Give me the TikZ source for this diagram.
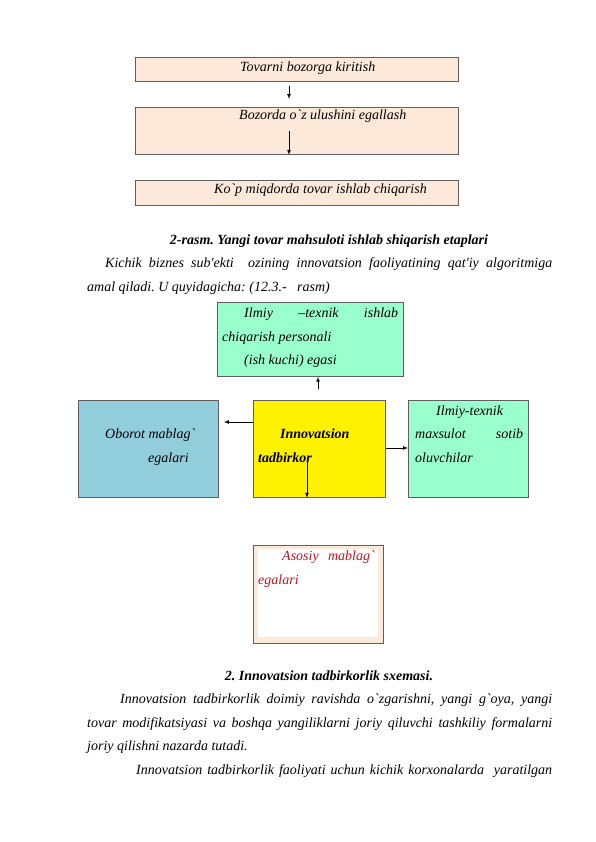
\documentclass[tikz,border=0pt]{standalone}
\usepackage{fontspec}
\setmainfont{Liberation Serif}[Ligatures=TeXOff]
\usetikzlibrary{arrows}
\frenchspacing
\definecolor{peach}{RGB}{253,233,217}
\definecolor{mint}{RGB}{153,255,204}
\definecolor{skyblue}{RGB}{146,205,220}
\definecolor{boxline}{RGB}{95,95,95}
\definecolor{redtext}{RGB}{200,20,30}
\tikzstyle{stage}=[draw=boxline,fill=peach,line width=0.9pt,inner sep=0pt,anchor=north west]
\tikzstyle{block}=[draw=boxline,line width=0.8pt,inner sep=0pt,anchor=north west]
\tikzstyle{txt}=[inner sep=0pt,anchor=base west,font=\fontsize{14}{16}\selectfont\itshape]
\tikzstyle{captxt}=[inner sep=0pt,anchor=base,font=\fontsize{14}{16}\selectfont\bfseries\itshape]
\tikzstyle{dedge}=[draw,line width=0.7pt,-latex]
\begin{document}
\begin{tikzpicture}[x=1pt,y=-1pt]
                    % etaplar
                    \node[stage,minimum width=323pt,minimum height=24pt] (s1) at (135,57) {};
                    \node[stage,minimum width=323pt,minimum height=47pt] (s2) at (135,107) {};
                    \node[stage,minimum width=323pt,minimum height=25pt] (s3) at (135,180) {};
                    \node[txt] (s1t) at (240,72) {Tovarni bozorga kiritish};
                    \node[txt] (s2t) at (239,120) {Bozorda o`z ulushini egallash};
                    \node[txt] (s3t) at (214,194) {Ko`p miqdorda tovar ishlab chiqarish};

                    \coordinate (a1) at (289,86);
                    \coordinate (a2) at (289,99);
                    \coordinate (a3) at (289,131);
                    \path[dedge] (a1) -- (a2);
                    \path[dedge] (a3) -- (s2.south -| a3);

                    \node[captxt] (c1) at (329,244) {2-rasm. Yangi tovar mahsuloti ishlab shiqarish etaplari};
                    \node[txt] (p1) at (105,267) {\makebox[447pt][s]{Kichik biznes sub'ekti \ ozining innovatsion faoliyatining qat'iy algoritmiga}};
                    \node[txt] (p2) at (87,291) {amal qiladi. U quyidagicha: (12.3.- \ \ rasm)};

                    % sxema
                    \node[block,fill=mint,minimum width=186pt,minimum height=74pt] (ilm) at (217,302) {};
                    \node[block,fill=skyblue,minimum width=140pt,minimum height=97pt] (obr) at (78,400) {};
                    \node[block,fill=yellow,minimum width=132pt,minimum height=97pt] (inn) at (253,400) {};
                    \node[block,fill=mint,minimum width=120pt,minimum height=97pt] (xar) at (408,400) {};
                    \node[block,fill=peach,minimum width=130pt,minimum height=98pt] (asos) at (253,545) {};
                    \fill[white] (258,549) rectangle (378,637);

                    \node[txt] (ilm1) at (244,317) {\makebox[154pt][s]{Ilmiy \ \ \ \ –texnik \ \ \ \ ishlab}};
                    \node[txt] (ilm2) at (222,341) {chiqarish personali};
                    \node[txt] (ilm3) at (244,364) {(ish kuchi) egasi};
                    \node[txt] (obr1) at (105,438) {Oborot mablag`};
                    \node[txt] (obr2) at (148,462) {egalari};
                    \node[txt,font=\fontsize{14}{16}\selectfont\bfseries\itshape] (inn1) at (280,438) {Innovatsion};
                    \node[txt,font=\fontsize{14}{16}\selectfont\bfseries\itshape] (inn2) at (258,462) {tadbirkor};
                    \node[txt] (xar1) at (436,415) {Ilmiy-texnik};
                    \node[txt] (xar2) at (415,438) {\makebox[108pt][s]{maxsulot \ \ \ \ sotib}};
                    \node[txt] (xar3) at (415,462) {oluvchilar};
                    \node[txt,text=redtext] (asos1) at (282,560) {\makebox[92pt][s]{Asosiy \ \ \ mablag`}};
                    \node[txt,text=redtext] (asos2) at (258,584) {egalari};

                    \coordinate (up) at (318,389);
                    \coordinate (lt) at (224,422);
                    \coordinate (dn) at (307,460);
                    \path[dedge] (up) -- (up |- ilm.south);
                    \path[dedge] (inn.west |- lt) -- (lt);
                    \path[dedge] (inn.east |- 0,448) -- (xar.west |- 0,448);
                    \path[dedge] (dn) -- (dn |- inn.south);

                    \node[captxt] (c2) at (329,680) {2. Innovatsion tadbirkorlik sxemasi.};
                    \node[txt] (q1) at (120,703) {\makebox[432pt][s]{Innovatsion tadbirkorlik doimiy ravishda o`zgarishni, yangi g`oya, yangi}};
                    \node[txt] (q2) at (87,727) {\makebox[465pt][s]{tovar modifikatsiyasi va boshqa yangiliklarni joriy qiluvchi tashkiliy formalarni}};
                    \node[txt] (q3) at (87,750) {joriy qilishni nazarda tutadi.};
                    \node[txt] (q4) at (136,774) {\makebox[416pt][s]{Innovatsion tadbirkorlik faoliyati uchun kichik korxonalarda \ yaratilgan}};

                    \pgfresetboundingbox
                    \path [use as bounding box] (0,0) rectangle (596,842);
                \end{tikzpicture}
\end{document}
